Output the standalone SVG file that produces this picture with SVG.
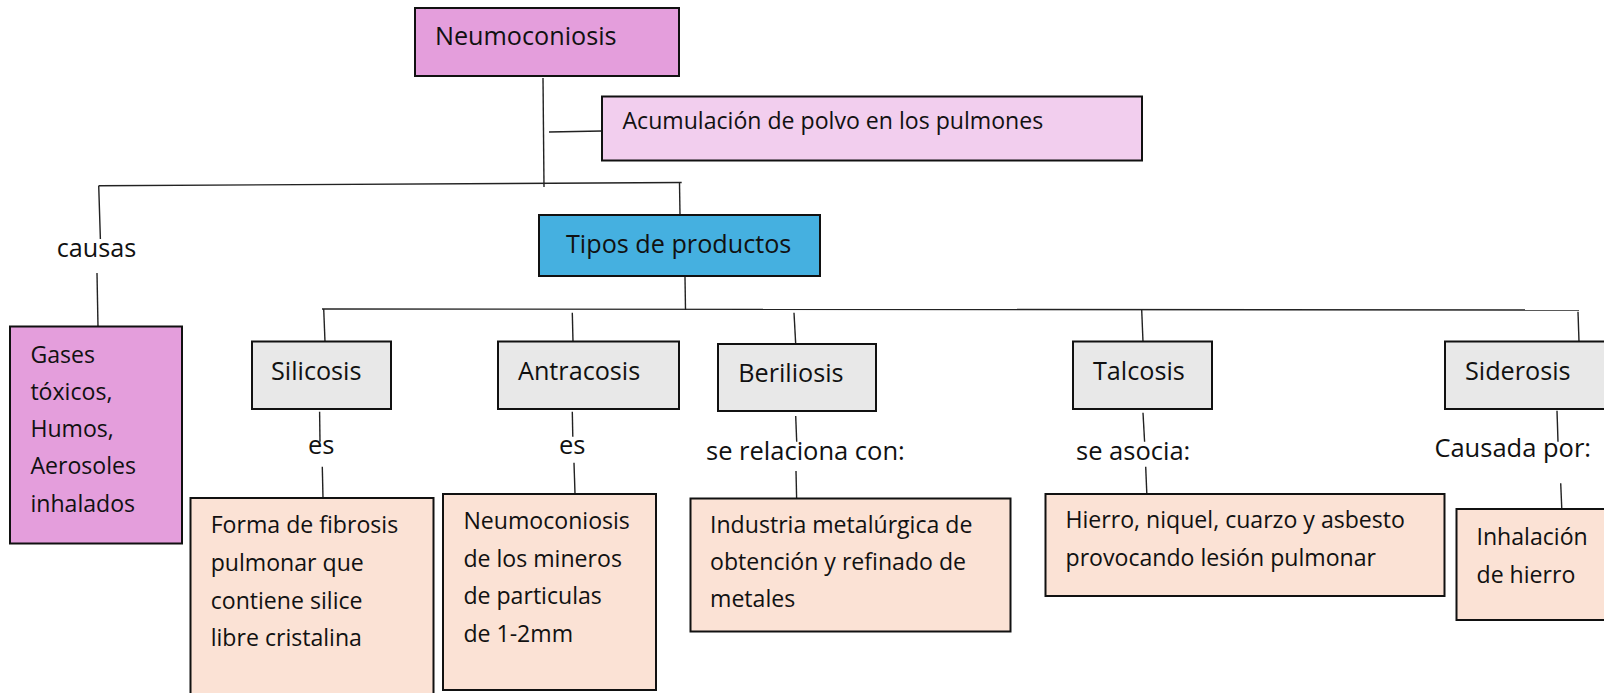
<svg xmlns="http://www.w3.org/2000/svg" width="1604" height="693" viewBox="0 0 1604 693">
<style>
.box{stroke:#111;stroke-width:2}
.pink{fill:#E49EDC}
.lpink{fill:#F2CEEE}
.blue{fill:#45B0E0}
.gray{fill:#E8E8E8}
.peach{fill:#FBE2D5}
.t{font-family:"Open Sans","Noto Sans","Liberation Sans",sans-serif;fill:#111}
.h{font-size:25.2px}
.d{font-size:23.1px}
.l{font-size:25.5px}
#connectors line{stroke:#222;stroke-width:1.4;fill:none}
</style>
<rect width="1604" height="693" fill="#fff"/>
<g id="connectors">
<line x1="543" y1="78" x2="544" y2="187"/>
<line x1="549" y1="132" x2="602" y2="131"/>
<line x1="98.7" y1="185.7" x2="681.7" y2="182.5"/>
<line x1="98.7" y1="185.7" x2="100.4" y2="239"/>
<line x1="97" y1="273" x2="98" y2="327"/>
<line x1="679.5" y1="183" x2="680" y2="215"/>
<line x1="685" y1="277" x2="685.5" y2="310"/>
<line x1="322" y1="309" x2="1579" y2="310"/>
<line x1="323.7" y1="309" x2="325" y2="341.7"/>
<line x1="572.3" y1="312.7" x2="573" y2="341.7"/>
<line x1="794" y1="312.7" x2="795.7" y2="344"/>
<line x1="1141.7" y1="310" x2="1143" y2="341.7"/>
<line x1="1578" y1="311.7" x2="1579" y2="341.7"/>
<line x1="319.6" y1="411.7" x2="320" y2="441.7"/>
<line x1="322.3" y1="466.7" x2="323" y2="498"/>
<line x1="572.3" y1="411.7" x2="572.8" y2="436.7"/>
<line x1="574" y1="462.7" x2="575" y2="494"/>
<line x1="795.7" y1="416" x2="796.7" y2="441.7"/>
<line x1="796" y1="471" x2="796.7" y2="501.7"/>
<line x1="1143" y1="412.7" x2="1144.6" y2="441.7"/>
<line x1="1145.7" y1="466.7" x2="1147" y2="498.3"/>
<line x1="1557" y1="410.7" x2="1558" y2="441.7"/>
<line x1="1560.7" y1="483.3" x2="1561.8" y2="509.3"/>
</g>
<g id="neumoconiosis">
<rect class="box pink" x="415" y="8" width="264" height="68"/>
<text class="t h" x="435" y="45">Neumoconiosis</text>
</g>
<g id="acumulacion">
<rect class="box lpink" x="602" y="96.5" width="540" height="64"/>
<text class="t d" x="622.5" y="129">Acumulación de polvo en los pulmones</text>
</g>
<g id="tipos">
<rect class="box blue" x="539" y="215" width="281" height="61"/>
<text class="t h" x="566" y="253">Tipos de productos</text>
</g>
<g id="causas">
<text class="t h" x="56.7" y="257">causas</text>
</g>
<g id="gases">
<rect class="box pink" x="10" y="326.5" width="172" height="217"/>
<text class="t d" x="30.4" y="362.7">Gases</text>
<text class="t d" x="30.4" y="400">tóxicos,</text>
<text class="t d" x="30.4" y="437">Humos,</text>
<text class="t d" x="30.4" y="474.3">Aerosoles</text>
<text class="t d" x="30.4" y="511.7">inhalados</text>
</g>
<g id="silicosis">
<rect class="box gray" x="252" y="341.5" width="139" height="67.5"/>
<text class="t h" x="271" y="380">Silicosis</text>
</g>
<g id="antracosis">
<rect class="box gray" x="498" y="341.5" width="181" height="67.5"/>
<text class="t h" x="518" y="380">Antracosis</text>
</g>
<g id="beriliosis">
<rect class="box gray" x="718" y="344" width="158" height="67"/>
<text class="t h" x="738.3" y="381.7">Beriliosis</text>
</g>
<g id="talcosis">
<rect class="box gray" x="1073" y="341.5" width="139" height="67.5"/>
<text class="t h" x="1093" y="380">Talcosis</text>
</g>
<g id="siderosis">
<rect class="box gray" x="1445" y="341.5" width="170" height="67.5"/>
<text class="t h" x="1465" y="380">Siderosis</text>
</g>
<g id="labels">
<text class="t l" x="308" y="454">es</text>
<text class="t l" x="559" y="454">es</text>
<text class="t l" x="706" y="460">se relaciona con:</text>
<text class="t l" x="1076" y="460">se asocia:</text>
<text class="t l" x="1434.4" y="456.7">Causada por:</text>
</g>
<g id="silicosis-def">
<rect class="box peach" x="190.5" y="498" width="243" height="205"/>
<text class="t d" x="210.7" y="533">Forma de fibrosis</text>
<text class="t d" x="210.7" y="571">pulmonar que</text>
<text class="t d" x="210.7" y="609">contiene silice</text>
<text class="t d" x="210.7" y="646">libre cristalina</text>
</g>
<g id="antracosis-def">
<rect class="box peach" x="443" y="494" width="213" height="196"/>
<text class="t d" x="463.4" y="529">Neumoconiosis</text>
<text class="t d" x="463.4" y="567">de los mineros</text>
<text class="t d" x="463.4" y="604">de particulas</text>
<text class="t d" x="463.4" y="642">de 1-2mm</text>
</g>
<g id="beriliosis-def">
<rect class="box peach" x="690.5" y="498.5" width="320" height="133"/>
<text class="t d" x="710" y="533">Industria metalúrgica de</text>
<text class="t d" x="710" y="570">obtención y refinado de</text>
<text class="t d" x="710" y="607.3">metales</text>
</g>
<g id="talcosis-def">
<rect class="box peach" x="1045.5" y="494" width="399" height="102"/>
<text class="t d" x="1065.5" y="528.3">Hierro, niquel, cuarzo y asbesto</text>
<text class="t d" x="1065.5" y="566">provocando lesión pulmonar</text>
</g>
<g id="siderosis-def">
<rect class="box peach" x="1456.5" y="509" width="160" height="111"/>
<text class="t d" x="1476.5" y="545">Inhalación</text>
<text class="t d" x="1476.5" y="582.7">de hierro</text>
</g>
</svg>
